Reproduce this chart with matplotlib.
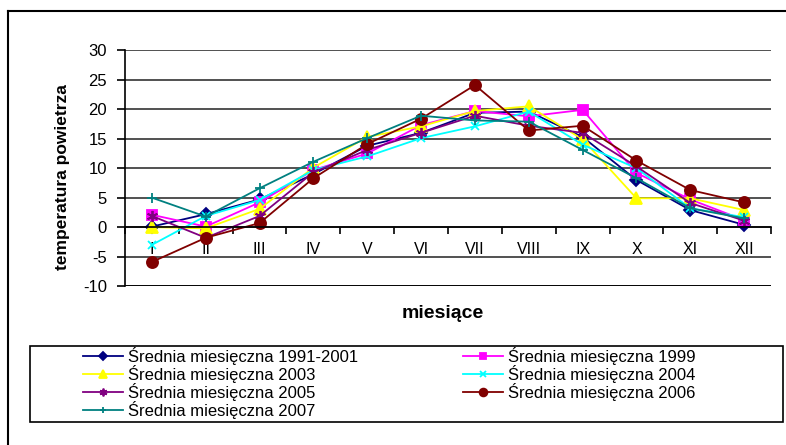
import matplotlib.pyplot as plt
from matplotlib.lines import Line2D
from matplotlib.patches import Rectangle

plt.rcParams['font.family'] = ['Liberation Sans', 'DejaVu Sans']
plt.rcParams['axes.unicode_minus'] = False

months = ['I', 'II', 'III', 'IV', 'V', 'VI', 'VII', 'VIII', 'IX', 'X', 'XI', 'XII']

avg_1991_2001 = [0.1, 2.2, 4.7, 9.0, 13.8, 16.0, 19.4, 19.6, 15.3, 8.0, 2.9, 0.4]
avg_1999 = [2.1, 0.1, 4.2, 9.7, 12.5, 17.3, 19.7, 18.8, 19.9, 9.2, 4.7, 1.2]
avg_2003 = [0.0, -0.2, 3.1, 10.1, 15.3, 17.1, 19.7, 20.5, 14.9, 4.9, 4.9, 2.9]
avg_2004 = [-3.0, 1.9, 4.6, 9.7, 12.0, 15.1, 17.1, 19.6, 14.0, 10.0, 3.2, 1.7]
avg_2005 = [1.9, -1.8, 1.9, 9.3, 13.1, 16.0, 18.9, 17.2, 16.0, 10.3, 4.1, 1.1]
avg_2006 = [-5.9, -1.8, 0.7, 8.3, 14.1, 18.4, 24.1, 16.4, 17.2, 11.3, 6.3, 4.2]
avg_2007 = [5.0, 1.8, 6.6, 11.1, 15.1, 18.9, 18.1, 17.9, 13.1, 8.3, 3.2, 1.5]

series = [
    ('Średnia miesięczna 1991-2001', avg_1991_2001, '#000080', 'D', 6),
    ('Średnia miesięczna 1999', avg_1999, '#FF00FF', 's', 7),
    ('Średnia miesięczna 2003', avg_2003, '#FFFF00', '^', 8),
    ('Średnia miesięczna 2004', avg_2004, '#00FFFF', 'x', 6),
    ('Średnia miesięczna 2005', avg_2005, '#800080', (6, 2, 0), 8),
    ('Średnia miesięczna 2006', avg_2006, '#800000', 'o', 8),
    ('Średnia miesięczna 2007', avg_2007, '#008080', '+', 7),
]

fig = plt.figure(figsize=(7.86, 4.45), dpi=100)
ax = fig.add_axes([0.159, 0.357, 0.822, 0.530])

x = list(range(len(months)))
handles = {}
for name, vals, col, mk, ms in series:
    line, = ax.plot(x, vals, color=col, marker=mk, markersize=ms, lw=1.3,
                    markeredgewidth=1.3, label=name)
    handles[name] = line

ax.set_xlim(-0.5, 11.5)
ax.set_ylim(-10, 30)
ax.set_yticks(range(-10, 31, 5))
ax.yaxis.grid(True, color='#222222', lw=1.1)
ax.set_axisbelow(True)

for s in ['top', 'right']:
    ax.spines[s].set_visible(False)
ax.spines['bottom'].set_position(('data', 0))
ax.spines['bottom'].set_linewidth(1.2)
ax.spines['left'].set_linewidth(1.2)
# bottom edge at -10
ax.axhline(-10, color='black', lw=1.3)

ax.set_xticks(x)
ax.set_xticklabels(months, fontsize=11.5)
ax.set_xticks([i - 0.5 for i in range(13)], minor=True)
ax.tick_params(axis='x', which='major', length=0, pad=11)
ax.tick_params(axis='x', which='minor', length=5, width=1.2, direction='out')
ax.tick_params(axis='y', length=6, width=1.2, labelsize=12, pad=7)

fig.text(62 / 786, 1 - 177 / 445, 'temperatura powietrza', rotation=90,
         ha='center', va='center', fontsize=12.5, fontweight='bold')
fig.text(443 / 786, 1 - 313 / 445, 'miesiące', ha='center', va='center',
         fontsize=14, fontweight='bold')

# legend (column-major order for matplotlib)
order = ['Średnia miesięczna 1991-2001', 'Średnia miesięczna 2003',
         'Średnia miesięczna 2005', 'Średnia miesięczna 2007',
         'Średnia miesięczna 1999', 'Średnia miesięczna 2004',
         'Średnia miesięczna 2006']
leg = fig.legend([handles[n] for n in order], order, ncol=2, loc='upper left',
                 bbox_to_anchor=(83 / 786, 1 - 347 / 445), frameon=False,
                 fontsize=12, borderpad=0, borderaxespad=0, handlelength=2.4,
                 handletextpad=0.3, columnspacing=6.3, labelspacing=0.0,
                 markerscale=0.7)

fig.patches.append(Rectangle((30 / 786, 1 - 422 / 445), 753 / 786, 76 / 445,
                             transform=fig.transFigure, fill=False,
                             edgecolor='black', lw=1.2))
# outer chart frame
fig.add_artist(Line2D([8 / 786, 8 / 786], [0, 1 - 11 / 445], color='black',
                      lw=1.5, transform=fig.transFigure))
fig.add_artist(Line2D([8 / 786, 1], [1 - 11 / 445, 1 - 11 / 445], color='black',
                      lw=1.5, transform=fig.transFigure))

fig.savefig('out.png', dpi=100)
